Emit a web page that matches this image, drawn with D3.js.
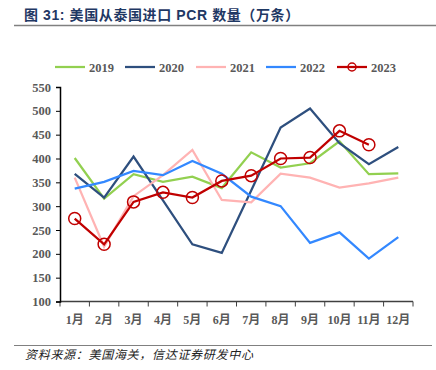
<!DOCTYPE html>
<html>
<head>
<meta charset="utf-8">
<script src="https://cdn.jsdelivr.net/npm/d3@7"></script>
<style>
  body { margin: 0; background: #fff; }
  svg { display: block; }
</style>
</head>
<body>
<div id="chart"></div>
<script>
var svgWidth = 436;
var svgHeight = 370;

var months = ["1月", "2月", "3月", "4月", "5月", "6月", "7月", "8月", "9月", "10月", "11月", "12月"];
var yTicks = [100, 150, 200, 250, 300, 350, 400, 450, 500, 550];

var s2019 = [401, 316, 367, 351, 362, 338, 413, 381, 390, 436, 367, 369];
var s2020 = [368, 318, 404, 312, 220, 202, 333, 465, 505, 432, 388, 424];
var s2021 = [360, 215, 321, 365, 418, 313, 308, 368, 360, 339, 348, 360];
var s2022 = [337, 351, 374, 365, 395, 368, 320, 300, 223, 245, 190, 235];
var s2023 = [274, 220, 309, 329, 318, 353, 364, 400, 402, 458, 429];

var seriesNames = ["2019", "2020", "2021", "2022", "2023"];
var seriesColors = ["#92D050", "#2E4F7E", "#FFB3B3", "#3388FF", "#C00000"];
var seriesData = [s2019, s2020, s2021, s2022, s2023];

var margin = { top: 87, right: 23, bottom: 68.5, left: 60 };
var width = svgWidth - margin.left - margin.right;
var height = svgHeight - margin.top - margin.bottom;

var svg = d3.select("#chart")
  .append("svg")
  .attr("width", svgWidth)
  .attr("height", svgHeight);

// title
svg.append("text")
  .attr("x", 24)
  .attr("y", 20)
  .attr("fill", "#1F3864")
  .style("font-family", "'Liberation Sans', 'Noto Sans CJK SC', sans-serif")
  .style("font-weight", "bold")
  .style("font-size", "14px")
  .style("letter-spacing", "0.6px")
  .text("图 31:  美国从泰国进口 PCR 数量（万条）");

svg.append("line")
  .attr("x1", 14).attr("x2", 436)
  .attr("y1", 25.5).attr("y2", 25.5)
  .attr("stroke", "#808080")
  .attr("stroke-width", 1.5);

// source
svg.append("line")
  .attr("x1", 14).attr("x2", 432)
  .attr("y1", 345.5).attr("y2", 345.5)
  .attr("stroke", "#808080")
  .attr("stroke-width", 1);

svg.append("text")
  .attr("x", 25)
  .attr("y", 359)
  .attr("fill", "#222")
  .style("font-family", "'Noto Sans CJK SC', sans-serif")
  .style("font-style", "italic")
  .style("font-size", "12px")
  .style("letter-spacing", "0.7px")
  .text("资料来源：美国海关，信达证券研发中心");

var chartGroup = svg.append("g")
  .attr("transform", `translate(${margin.left}, ${margin.top})`);

var xScale = d3.scaleBand()
  .domain(months)
  .range([0, width]);

var yScale = d3.scaleLinear()
  .domain([100, 550])
  .range([height, 0]);

// x axis
var xAxis = chartGroup.append("g")
  .attr("transform", `translate(0, ${height})`);

xAxis.append("line")
  .attr("x1", 0).attr("x2", width)
  .attr("y1", 0).attr("y2", 0)
  .attr("stroke", "#404040")
  .attr("stroke-width", 1.5);

xAxis.selectAll(".tick-mark")
  .data(d3.range(months.length + 1))
  .enter()
  .append("line")
  .attr("x1", i => i * xScale.step())
  .attr("x2", i => i * xScale.step())
  .attr("y1", 0).attr("y2", 5)
  .attr("stroke", "#404040")
  .attr("stroke-width", 1);

xAxis.selectAll(".xlabel")
  .data(months)
  .enter()
  .append("text")
  .attr("x", d => xScale(d) + xScale.bandwidth() / 2)
  .attr("y", 22)
  .attr("text-anchor", "middle")
  .attr("fill", "#595959")
  .style("font-family", "'Liberation Serif', 'Noto Sans CJK SC', serif")
  .style("font-weight", "bold")
  .style("font-size", "12px")
  .text(d => d);

// y axis
var leftAxis = d3.axisLeft(yScale)
  .tickValues(yTicks)
  .tickSize(4)
  .tickPadding(5);

var yAxis = chartGroup.append("g").call(leftAxis);
yAxis.select(".domain").attr("stroke", "#000").attr("stroke-width", 1.5);
yAxis.selectAll(".tick line").attr("stroke", "#000");
yAxis.selectAll(".tick text")
  .attr("fill", "#595959")
  .style("font-family", "'Liberation Serif', serif")
  .style("font-weight", "bold")
  .style("font-size", "12.5px");

// lines
var line = d3.line()
  .x((d, i) => xScale(months[i]) + xScale.bandwidth() / 2)
  .y(d => yScale(d));

seriesData.forEach(function(data, k) {
  chartGroup.append("path")
    .datum(data)
    .attr("fill", "none")
    .attr("stroke", seriesColors[k])
    .attr("stroke-width", 2.25)
    .attr("stroke-linejoin", "miter")
    .attr("d", line);
});

chartGroup.selectAll(".marker")
  .data(s2023)
  .enter()
  .append("circle")
  .attr("cx", (d, i) => xScale(months[i]) + xScale.bandwidth() / 2)
  .attr("cy", d => yScale(d))
  .attr("r", 6)
  .attr("fill", "none")
  .attr("stroke", "#C00000")
  .attr("stroke-width", 1.5);

// legend
var legendX = [55, 125, 196, 266, 337];
var legend = svg.append("g");

seriesNames.forEach(function(name, k) {
  var g = legend.append("g").attr("transform", `translate(${legendX[k]}, 67)`);
  g.append("line")
    .attr("x1", 0).attr("x2", 30)
    .attr("y1", 0).attr("y2", 0)
    .attr("stroke", seriesColors[k])
    .attr("stroke-width", 2.25);
  if (name === "2023") {
    g.append("circle")
      .attr("cx", 15).attr("cy", 0).attr("r", 4)
      .attr("fill", "none")
      .attr("stroke", seriesColors[k])
      .attr("stroke-width", 1.5);
  }
  g.append("text")
    .attr("x", 34)
    .attr("y", 4.5)
    .attr("fill", "#595959")
    .style("font-family", "'Liberation Serif', serif")
    .style("font-weight", "bold")
    .style("font-size", "12.5px")
    .text(name);
});
</script>
</body>
</html>
